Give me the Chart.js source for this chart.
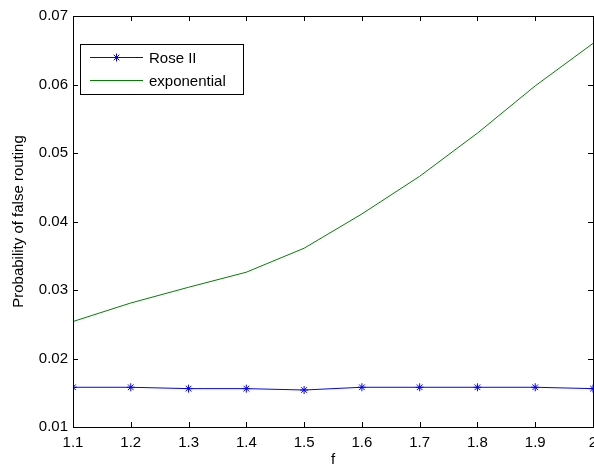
<!DOCTYPE html>
<html>
<head>
<meta charset="utf-8">
<script src="https://cdn.jsdelivr.net/npm/chart.js@4"></script>
<style>
  html, body { margin: 0; padding: 0; background: #fff; overflow: hidden; }
  #wrap { width: 610px; height: 466px; }
</style>
</head>
<body>
<div id="wrap"><canvas id="chart" width="610" height="466"></canvas></div>
<script>
const fValues = [1.1, 1.2, 1.3, 1.4, 1.5, 1.6, 1.7, 1.8, 1.9, 2.0];
const roseII = [0.0158, 0.0158, 0.0156, 0.0156, 0.0154, 0.0158, 0.0158, 0.0158, 0.0158, 0.0156];
const exponential = [0.0254, 0.0281, 0.0304, 0.0326, 0.0361, 0.0411, 0.0466, 0.0529, 0.0598, 0.0660];
const xTicks = [1.1, 1.2, 1.3, 1.4, 1.5, 1.6, 1.7, 1.8, 1.9, 2.0];
const yTicks = [0.01, 0.02, 0.03, 0.04, 0.05, 0.06, 0.07];

const FONT = "'Liberation Sans', Arial, sans-serif";

// MATLAB style box with inward ticks, and legend inside the axes
const boxPlugin = {
  id: "box",
  afterDraw(chart) {
    const ctx = chart.ctx;
    const a = chart.chartArea;
    const xs = chart.scales.x, ys = chart.scales.y;
    ctx.save();
    ctx.strokeStyle = "#000";
    ctx.lineWidth = 1;
    ctx.beginPath();
    xTicks.forEach(function (v) {
      const px = Math.round(xs.getPixelForValue(v)) + 0.5;
      ctx.moveTo(px, a.bottom); ctx.lineTo(px, a.bottom - 5);
      ctx.moveTo(px, a.top); ctx.lineTo(px, a.top + 5);
    });
    yTicks.forEach(function (v) {
      const py = Math.round(ys.getPixelForValue(v)) + 0.5;
      ctx.moveTo(a.left, py); ctx.lineTo(a.left + 5, py);
      ctx.moveTo(a.right, py); ctx.lineTo(a.right - 5, py);
    });
    ctx.stroke();
    ctx.strokeRect(Math.round(a.left) + 0.5, Math.round(a.top) + 0.5,
      Math.round(a.right - a.left), Math.round(a.bottom - a.top));

    // legend
    const lx = 80, ly = 44, lw = 163, lh = 50;
    ctx.fillStyle = "#fff";
    ctx.fillRect(lx, ly, lw, lh);
    ctx.strokeRect(lx + 0.5, ly + 0.5, lw, lh);
    ctx.font = "15px " + FONT;
    ctx.textBaseline = "middle";
    chart.data.datasets.forEach(function (ds, i) {
      const y = ly + 13 + i * 23 + 0.5;
      ctx.strokeStyle = ds.borderColor;
      ctx.beginPath();
      ctx.moveTo(90, y); ctx.lineTo(143, y);
      ctx.stroke();
      if (ds.pointRadius > 0) {
        const r = 4, cx = 116.5;
        ctx.beginPath();
        ctx.moveTo(cx - r, y); ctx.lineTo(cx + r, y);
        ctx.moveTo(cx, y - r); ctx.lineTo(cx, y + r);
        const d = r * 0.7;
        ctx.moveTo(cx - d, y - d); ctx.lineTo(cx + d, y + d);
        ctx.moveTo(cx - d, y + d); ctx.lineTo(cx + d, y - d);
        ctx.stroke();
      }
      ctx.fillStyle = "#000";
      ctx.fillText(ds.label, 149, y + 1);
    });
    ctx.restore();
  }
};

new Chart(document.getElementById("chart").getContext("2d"), {
  type: "line",
  data: {
    datasets: [
      {
        label: "Rose II",
        data: fValues.map((f, i) => ({ x: f, y: roseII[i] })),
        borderColor: "#0000ff",
        borderWidth: 1,
        pointStyle: "star",
        pointRadius: 4,
        pointBorderColor: "#0000ff",
        pointBorderWidth: 1,
        tension: 0,
      },
      {
        label: "exponential",
        data: fValues.map((f, i) => ({ x: f, y: exponential[i] })),
        borderColor: "#008000",
        borderWidth: 1,
        pointRadius: 0,
        tension: 0,
      },
    ],
  },
  options: {
    responsive: false,
    animation: false,
    devicePixelRatio: 1,
    layout: { padding: { top: 16, right: 17, left: 0, bottom: 0 } },
    plugins: { legend: { display: false }, tooltip: { enabled: false } },
    scales: {
      x: {
        type: "linear",
        min: 1.1,
        max: 2.0,
        afterFit: function (s) { s.height = 39; },
        afterBuildTicks: function (s) { s.ticks = xTicks.map((v) => ({ value: v })); },
        grid: { display: false, drawTicks: false },
        border: { display: false },
        ticks: {
          padding: 7,
          color: "#000",
          font: { family: FONT, size: 15 },
          maxRotation: 0,
          callback: function (v) { return String(Math.round(v * 10) / 10); },
        },
        title: {
          display: true,
          text: "f",
          color: "#000",
          font: { family: FONT, size: 15 },
          padding: { top: 0, bottom: -3 },
        },
      },
      y: {
        type: "linear",
        min: 0.01,
        max: 0.07,
        afterFit: function (s) { s.width = 73; },
        afterBuildTicks: function (s) { s.ticks = yTicks.map((v) => ({ value: v })); },
        grid: { display: false, drawTicks: false },
        border: { display: false },
        ticks: {
          padding: 5,
          color: "#000",
          font: { family: FONT, size: 15 },
          callback: function (v) { return Number(v).toFixed(2); },
        },
        title: {
          display: true,
          text: "Probability of false routing",
          color: "#000",
          font: { family: FONT, size: 15 },
          padding: { top: 10, bottom: 0 },
        },
      },
    },
  },
  plugins: [boxPlugin],
});
</script>
</body>
</html>
